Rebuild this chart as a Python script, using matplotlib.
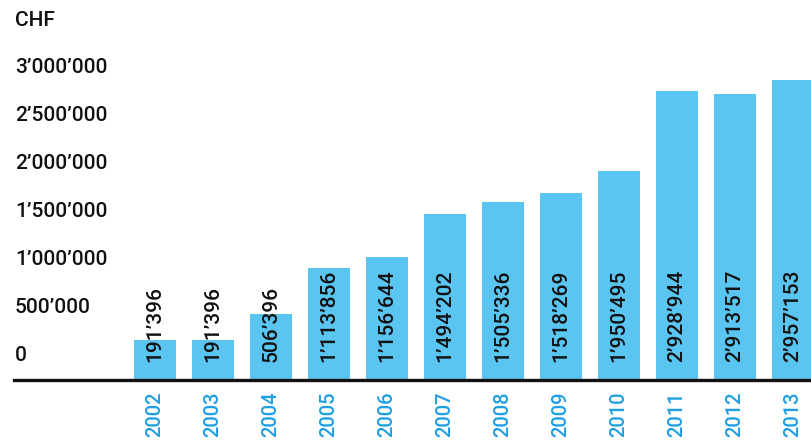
import matplotlib
matplotlib.use("Agg")
import matplotlib.pyplot as plt
import matplotlib.transforms as mtransforms

# data
years = ["2002", "2003", "2004", "2005", "2006", "2007", "2008", "2009", "2010", "2011", "2012", "2013"]
# bar heights as drawn in the picture (CHF, on the axis scale)
bar_heights = [417000, 417000, 687500, 1166700, 1281300, 1729200, 1854200, 1947900, 2177100, 3010400, 2979200, 3125000]
# printed values
value_labels = ["191’396", "191’396", "506’396", "1’113’856", "1’156’644", "1’494’202",
                "1’505’336", "1’518’269", "1’950’495", "2’928’944", "2’913’517", "2’957’153"]
yticks = [0, 500000, 1000000, 1500000, 2000000, 2500000, 3000000]
ytick_labels = ["0", "500’000", "1’000’000", "1’500’000", "2’000’000", "2’500’000", "3’000’000"]

bar_color = "#5bc5f2"
year_color = "#1fa0e3"
font = dict(family="Roboto", weight="medium", size=15)

W, H = 811, 440
fig = plt.figure(figsize=(W / 100, H / 100), dpi=100)
ax = fig.add_axes([14 / W, 60 / H, (W - 14) / W, 370 / H])

x = range(len(years))
ax.bar(x, bar_heights, width=42 / 58, color=bar_color, zorder=2)

ax.set_xlim(-(155 - 14) / 58, -(155 - 14) / 58 + (W - 14) / 58)
ax.set_ylim(0, 370 / 48 * 500000)

for s in ["top", "right", "left"]:
    ax.spines[s].set_visible(False)
ax.spines["bottom"].set_linewidth(2.4)
ax.spines["bottom"].set_color("#111111")
ax.set_xticks([])
ax.set_yticks([])

# y labels sit above their gridline level
trans = mtransforms.blended_transform_factory(fig.transFigure, ax.transData)
off = mtransforms.ScaledTranslation(0, 24.5 / 100, fig.dpi_scale_trans)
for v, lab in zip(yticks, ytick_labels):
    fig.text(15 / W, v, lab, transform=trans + off, ha="left", va="center", color="#111111", **font)
fig.text(15 / W, 1 - 20 / H, "CHF", ha="left", va="center", color="#111111", **font)

# values inside bars
off_v = mtransforms.ScaledTranslation(0, 18 / 100, fig.dpi_scale_trans)
for i, lab in enumerate(value_labels):
    ax.text(i, 0, lab, transform=ax.transData + off_v, rotation=90, ha="center", va="bottom",
            color="#111111", zorder=3, clip_on=False, **font)

# years below the axis
off_y = mtransforms.ScaledTranslation(0, -11 / 100, fig.dpi_scale_trans)
for i, yr in enumerate(years):
    ax.text(i, 0, yr, transform=ax.transData + off_y, rotation=90, ha="center", va="top",
            color=year_color, clip_on=False, family="Roboto", weight="medium", size=14.5)

fig.savefig("out.png", dpi=100)
